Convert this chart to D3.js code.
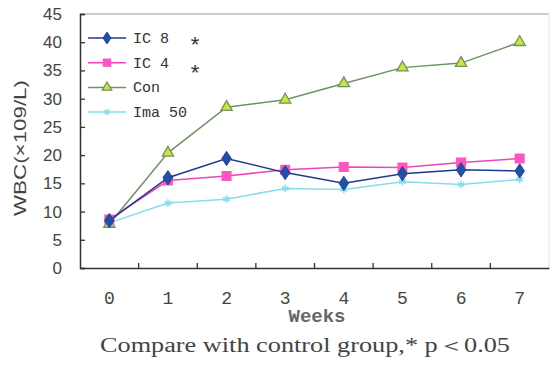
<!DOCTYPE html>
<html>
<head>
<meta charset="utf-8">
<script src="https://cdn.jsdelivr.net/npm/d3@7"></script>
<style>
  body { margin: 0; background: #fff; }
</style>
</head>
<body>
<div id="chart"></div>
<script>
var weeks = ["0", "1", "2", "3", "4", "5", "6", "7"];
var ic8 = [8.4, 16.0, 19.4, 16.9, 15.0, 16.7, 17.4, 17.2];
var ic4 = [8.6, 15.5, 16.3, 17.4, 17.9, 17.8, 18.7, 19.4];
var con = [7.8, 20.4, 28.5, 29.8, 32.7, 35.5, 36.3, 40.0];
var ima50 = [8.0, 11.5, 12.2, 14.1, 13.9, 15.3, 14.8, 15.7];
var yTicks = [0, 5, 10, 15, 20, 25, 30, 35, 40, 45];

var series = [
  { name: "IC 8", values: ic8, line: "#1f3c8f", fill: "#2050a8", marker: "diamond", star: true },
  { name: "IC 4", values: ic4, line: "#ee44bb", fill: "#ff55c0", marker: "square", star: true },
  { name: "Con", values: con, line: "#6b9460", fill: "#cfe43a", marker: "triangle", star: false },
  { name: "Ima 50", values: ima50, line: "#86dcee", fill: "#86dcee", marker: "star", star: false }
];

var width = 553, height = 383;
var plotLeft = 80, plotRight = 549, plotTop = 14, plotBottom = 268;

var svg = d3.select("#chart").append("svg")
  .attr("width", width)
  .attr("height", height);

var x = d3.scaleBand().domain(weeks).range([plotLeft, plotRight]);
var y = d3.scaleLinear().domain([0, 45]).range([plotBottom, plotTop]);

// frame: top and right lines
svg.append("line").attr("x1", plotLeft).attr("x2", plotRight).attr("y1", plotTop).attr("y2", plotTop)
  .attr("stroke", "#9a9a9a").attr("stroke-width", 1.2);
svg.append("line").attr("x1", plotRight).attr("x2", plotRight).attr("y1", plotTop).attr("y2", plotBottom)
  .attr("stroke", "#e4e4e4").attr("stroke-width", 1);

// y axis
var yAxis = svg.append("g")
  .attr("transform", "translate(" + plotLeft + ",0)")
  .call(d3.axisRight(y).tickValues(yTicks).tickSize(5).tickFormat(""));
yAxis.select(".domain").attr("stroke", "#333").attr("stroke-width", 1.5);
yAxis.selectAll(".tick line").attr("stroke", "#333").attr("stroke-width", 1.3);

svg.selectAll(".ylab")
  .data(yTicks)
  .enter()
  .append("text")
  .attr("class", "ylab")
  .attr("x", 62)
  .attr("y", function (d) { return y(d) + 6; })
  .attr("text-anchor", "end")
  .attr("font-family", "Liberation Sans, Arial, sans-serif")
  .attr("font-size", 17)
  .attr("fill", "#444")
  .text(function (d) { return d; });

// x axis with ticks between categories
var xAxis = svg.append("g")
  .attr("transform", "translate(0," + plotBottom + ")")
  .call(d3.axisTop(x).tickSize(0).tickFormat(""));
xAxis.select(".domain").attr("stroke", "#333").attr("stroke-width", 1.5);

svg.selectAll(".xtick")
  .data(weeks.slice(1))
  .enter()
  .append("line")
  .attr("class", "xtick")
  .attr("x1", function (d) { return x(d); })
  .attr("x2", function (d) { return x(d); })
  .attr("y1", plotBottom)
  .attr("y2", plotBottom - 5)
  .attr("stroke", "#333")
  .attr("stroke-width", 1.3);

svg.selectAll(".xlab")
  .data(weeks)
  .enter()
  .append("text")
  .attr("class", "xlab")
  .attr("x", function (d) { return x(d) + x.bandwidth() / 2; })
  .attr("y", 304)
  .attr("text-anchor", "middle")
  .attr("font-family", "Liberation Mono, Courier New, monospace")
  .attr("font-size", 18)
  .attr("fill", "#444")
  .text(function (d) { return d; });

svg.append("text")
  .attr("x", 317)
  .attr("y", 322)
  .attr("text-anchor", "middle")
  .attr("font-family", "Liberation Mono, Courier New, monospace")
  .attr("font-size", 19)
  .attr("font-weight", "bold")
  .attr("fill", "#666")
  .text("Weeks");

svg.append("text")
  .attr("transform", "translate(26,148) rotate(-90)")
  .attr("text-anchor", "middle")
  .attr("font-family", "Liberation Sans, Arial, sans-serif")
  .attr("font-size", 16)
  .attr("textLength", 136)
  .attr("lengthAdjust", "spacingAndGlyphs")
  .attr("fill", "#444")
  .text("WBC(×109/L)");

function drawMarker(g, s, cx, cy, k) {
  k = k || 1;
  if (s.marker === "diamond") {
    g.append("path").attr("d", d3.symbol().type(d3.symbolDiamond).size(60 * k)())
      .attr("transform", "translate(" + cx + "," + cy + ") scale(1.15,1)")
      .attr("fill", s.fill).attr("stroke", s.line).attr("stroke-width", 0.8);
  } else if (s.marker === "square") {
    var h = 5 * Math.sqrt(k);
    g.append("rect").attr("x", cx - h).attr("y", cy - h).attr("width", 2 * h).attr("height", 2 * h)
      .attr("fill", s.fill);
  } else if (s.marker === "triangle") {
    g.append("path").attr("d", d3.symbol().type(d3.symbolTriangle).size(55 * k)())
      .attr("transform", "translate(" + cx + "," + cy + ")")
      .attr("fill", s.fill).attr("stroke", s.line).attr("stroke-width", 1.3);
  } else {
    g.append("path").attr("d", d3.symbol().type(d3.symbolAsterisk || d3.symbolX).size(40 * k)())
      .attr("transform", "translate(" + cx + "," + cy + ")")
      .attr("fill", "none").attr("stroke", s.line).attr("stroke-width", 1.5);
  }
}

var line = d3.line()
  .x(function (d, i) { return x(weeks[i]) + x.bandwidth() / 2; })
  .y(function (d) { return y(d); });

// draw Ima 50 first, then Con, IC 4, IC 8 on top
var order = [3, 2, 1, 0];
order.forEach(function (k) {
  var s = series[k];
  var g = svg.append("g");
  g.append("path")
    .datum(s.values)
    .attr("d", line)
    .attr("fill", "none")
    .attr("stroke", s.line)
    .attr("stroke-width", 1.5);
  s.values.forEach(function (v, i) {
    drawMarker(g, s, x(weeks[i]) + x.bandwidth() / 2, y(v));
  });
});

// legend
var legend = svg.append("g");
series.forEach(function (s, i) {
  var ly = 38 + i * 24.7;
  var g = legend.append("g");
  g.append("line").attr("x1", 88).attr("x2", 126).attr("y1", ly).attr("y2", ly)
    .attr("stroke", s.line).attr("stroke-width", 1.5);
  drawMarker(g, s, 107, ly, 0.7);
  g.append("text")
    .attr("x", 133)
    .attr("y", ly + 5)
    .attr("font-family", "Liberation Mono, Courier New, monospace")
    .attr("font-size", 15)
    .attr("fill", "#333")
    .text(s.name);
  if (s.star) {
    g.append("text")
      .attr("x", 195)
      .attr("y", (i === 0 ? 40 : 68) + 12)
      .attr("text-anchor", "middle")
      .attr("font-family", "Liberation Sans, Arial, sans-serif")
      .attr("font-size", 22)
      .attr("fill", "#333")
      .text("*");
  }
});

svg.append("text")
  .attr("x", 100)
  .attr("y", 352)
  .attr("font-family", "Liberation Serif, Times New Roman, serif")
  .attr("font-size", 20)
  .attr("textLength", 410)
  .attr("lengthAdjust", "spacingAndGlyphs")
  .attr("fill", "#444")
  .text("Compare with control group,* p＜0.05");
</script>
</body>
</html>
